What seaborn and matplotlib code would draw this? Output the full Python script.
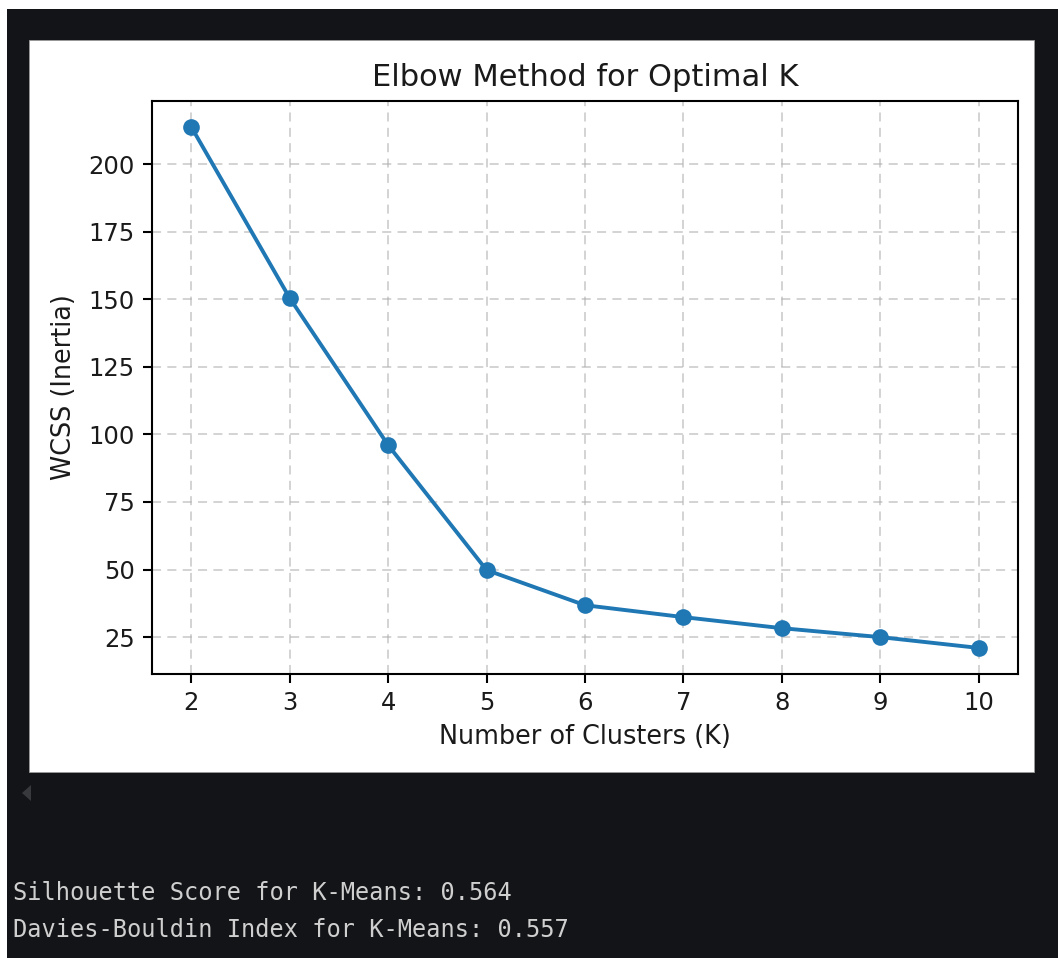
import numpy as np
import pandas as pd
import seaborn as sns
import matplotlib
matplotlib.use("Agg")
import matplotlib.pyplot as plt
from matplotlib.patches import Rectangle, Polygon

# ---- data ----
k_values = [2, 3, 4, 5, 6, 7, 8, 9, 10]
wcss = [213.7, 150.4, 96.0, 49.8, 36.8, 32.4, 28.3, 25.0, 21.0]
title = "Elbow Method for Optimal K"
xlabel = "Number of Clusters (K)"
ylabel = "WCSS (Inertia)"
output_lines = [
    "Silhouette Score for K-Means: 0.564",
    "Davies-Bouldin Index for K-Means: 0.557",
]

sns.set_style("white")
plt.rcParams['font.family'] = ['DejaVu Sans']

W, H = 1058, 958
fig = plt.figure(figsize=(W / 100, H / 100), dpi=100)
fig.patch.set_facecolor("white")

def fx(px):
    return px / W

def fy(py):
    return 1 - py / H

# dark notebook background
fig.patches.append(Rectangle((fx(7), 0), 1 - fx(7), fy(9), transform=fig.transFigure,
                             facecolor="#131417", edgecolor="none", zorder=-10))
# white figure panel
fig.patches.append(Rectangle((fx(29), fy(772)), fx(1034) - fx(29), fy(40) - fy(772),
                             transform=fig.transFigure, facecolor="white",
                             edgecolor="#9a9a9a", linewidth=0.6, zorder=-5))
# small scroll arrow
fig.patches.append(Polygon([(fx(22), fy(793)), (fx(31), fy(785)), (fx(31), fy(801))],
                           closed=True, transform=fig.transFigure,
                           facecolor="#38393c", edgecolor="none", zorder=-4))

ax = fig.add_axes([fx(152), fy(674), fx(1018) - fx(152), fy(101) - fy(674)])
ax.set_facecolor("white")

df = pd.DataFrame({"K": k_values, "WCSS": wcss})
sns.lineplot(data=df, x="K", y="WCSS", ax=ax, color="#1f77b4", linewidth=2.8,
             marker="o", markersize=12, markeredgewidth=0, markeredgecolor="#1f77b4")

ax.set_xticks(k_values)
ax.set_yticks([25, 50, 75, 100, 125, 150, 175, 200])
ax.set_xlim(1.6, 10.4)
ax.set_ylim(11.35, 223.35)

ax.grid(True, linestyle="--", color="#b0b0b0", alpha=0.6, linewidth=1.3, dashes=(5, 3.5))
for s in ax.spines.values():
    s.set_visible(True)
    s.set_color("black")
    s.set_linewidth(1.5)

ax.tick_params(axis="both", which="major", length=6.4, width=1.5, labelsize=17.5,
               color="black", labelcolor="#1a1a1a", pad=6, left=True, bottom=True)
ax.set_title(title, fontsize=22, color="#1a1a1a", pad=11)
ax.set_xlabel(xlabel, fontsize=18.4, color="#1a1a1a", labelpad=6)
ax.set_ylabel(ylabel, fontsize=18.4, color="#1a1a1a", labelpad=8)

# notebook text output
for i, line in enumerate(output_lines):
    fig.text(fx(13), fy(893 + 37 * i), line, family="DejaVu Sans Mono", fontsize=17,
             color="#cfcfcf", ha="left", va="center")

fig.savefig("out.png", dpi=100)
